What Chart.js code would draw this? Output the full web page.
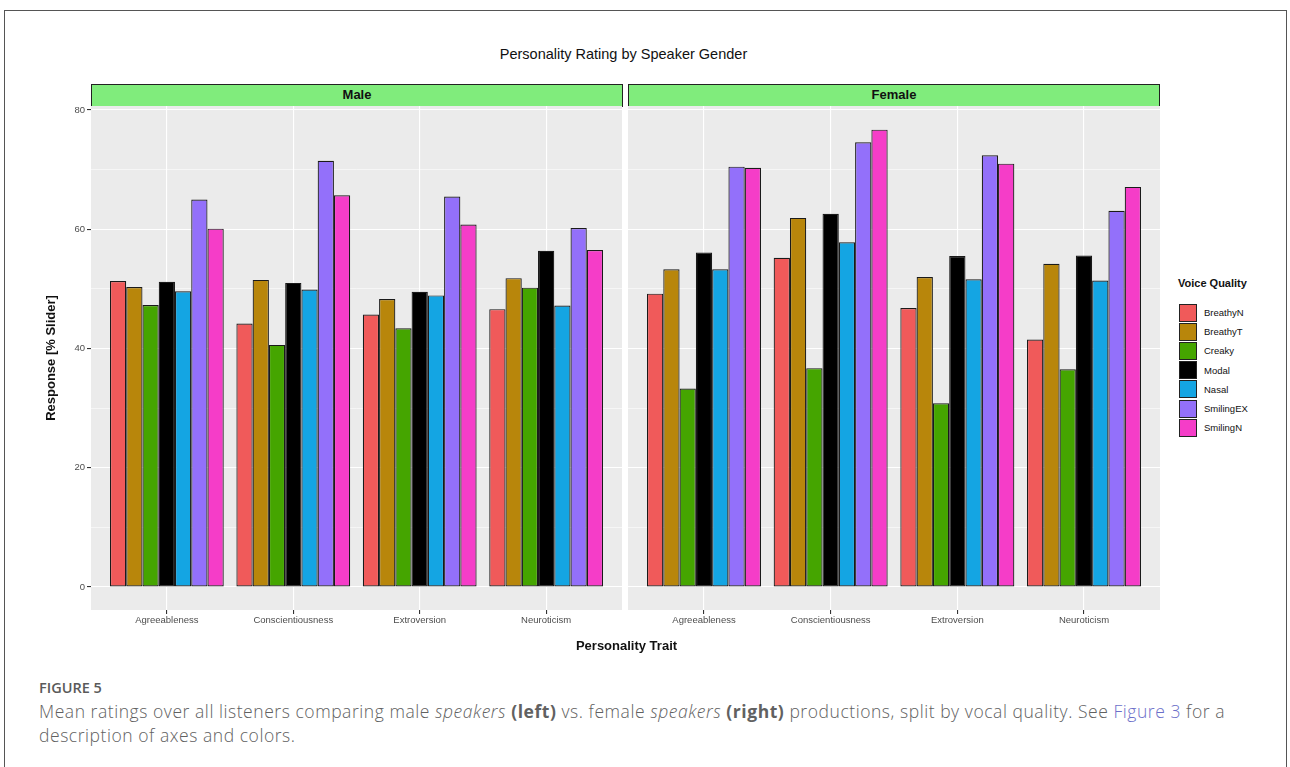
<!DOCTYPE html>
<html><head><meta charset="utf-8">
<script src="https://cdn.jsdelivr.net/npm/chart.js@4.4.1/dist/chart.umd.min.js"></script>
<style>
body{margin:0;width:1290px;height:767px;overflow:hidden;background:#fff;position:relative;font-family:"Liberation Sans",Arial,sans-serif}
#frame{position:absolute;left:4px;top:10px;width:1283px;height:800px;border:1px solid #555;box-sizing:border-box}
#title{position:absolute;left:0;width:1247px;top:46px;text-align:center;font-size:14.5px;color:#111}
.strip{position:absolute;top:84px;height:23px;background:#80EC7C;border:1.3px solid #222;box-sizing:border-box;text-align:center;font-weight:bold;font-size:13px;line-height:20px;color:#111}
.cw{position:absolute;top:106px;height:560px}
#xtitle{position:absolute;left:0;width:1253px;top:638px;text-align:center;font-weight:bold;font-size:13px;color:#111}
#legend{position:absolute;left:1178px;top:277px;font-size:9.5px;color:#111}
#legend .lt{font-weight:bold;font-size:11px;margin-bottom:14px}
#legend .it{height:19.2px;display:flex;align-items:center}
#legend .sw{width:16px;height:16px;border:1px solid #222;margin-right:7px;margin-left:1px}
#caption{position:absolute;left:39px;top:678px;font-family:"Open Sans",sans-serif;color:#616161}
#caption .fig{font-size:14.5px;font-weight:600;margin-bottom:3px;color:#5a5a5a}
#caption .txt{font-size:17.5px;line-height:23.5px;font-weight:300;letter-spacing:0.55px;white-space:nowrap}
#caption b{font-weight:700}
#caption a{color:#6C6FC9;text-decoration:none}
</style></head>
<body>
<div id="frame"></div>
<div id="title">Personality Rating by Speaker Gender</div>
<div class="strip" style="left:91px;width:532px">Male</div>
<div class="strip" style="left:628px;width:532px">Female</div>
<div class="cw" style="left:20px;width:602px"><canvas id="male" width="602" height="560"></canvas></div>
<div class="cw" style="left:628px;width:532px"><canvas id="female" width="532" height="560"></canvas></div>
<div id="xtitle">Personality Trait</div>
<div id="legend"><div class="lt">Voice Quality</div></div>
<div id="caption"><div class="fig">FIGURE 5</div><div class="txt">Mean ratings over all listeners comparing male <i>speakers</i> <b>(left)</b> vs. female <i>speakers</i> <b>(right)</b> productions, split by vocal quality. See <a>Figure 3</a> for a<br>description of axes and colors.</div></div>
<script>
// ---- data ----
const categories = ['Agreeableness', 'Conscientiousness', 'Extroversion', 'Neuroticism'];
const voiceQualities = ['BreathyN', 'BreathyT', 'Creaky', 'Modal', 'Nasal', 'SmilingEX', 'SmilingN'];
const seriesColors = ['#F05A5A', '#B8860B', '#45A500', '#000000', '#14A5E3', '#9370FA', '#F53DC8'];
const yTickValues = [0, 10, 20, 30, 40, 50, 60, 70, 80];

const maleBreathyN  = [51.3, 44.2, 45.7, 46.6];
const maleBreathyT  = [50.3, 51.5, 48.3, 51.8];
const maleCreaky    = [47.3, 40.6, 43.4, 50.2];
const maleModal     = [51.2, 51.0, 49.5, 56.4];
const maleNasal     = [49.6, 49.9, 48.9, 47.2];
const maleSmilingEX = [65.0, 71.5, 65.5, 60.2];
const maleSmilingN  = [60.1, 65.7, 60.8, 56.5];

const femaleBreathyN  = [49.2, 55.2, 46.8, 41.5];
const femaleBreathyT  = [53.3, 61.9, 52.0, 54.2];
const femaleCreaky    = [33.3, 36.7, 30.8, 36.5];
const femaleModal     = [56.1, 62.6, 55.5, 55.6];
const femaleNasal     = [53.3, 57.8, 51.6, 51.4];
const femaleSmilingEX = [70.5, 74.6, 72.4, 63.1];
const femaleSmilingN  = [70.3, 76.7, 71.0, 67.1];

const maleSeries = [maleBreathyN, maleBreathyT, maleCreaky, maleModal, maleNasal, maleSmilingEX, maleSmilingN];
const femaleSeries = [femaleBreathyN, femaleBreathyT, femaleCreaky, femaleModal, femaleNasal, femaleSmilingEX, femaleSmilingN];

// legend
const leg = document.getElementById('legend');
voiceQualities.forEach((n, i) => {
  const d = document.createElement('div'); d.className = 'it';
  const s = document.createElement('div'); s.className = 'sw'; s.style.background = seriesColors[i];
  const t = document.createElement('span'); t.textContent = n;
  d.appendChild(s); d.appendChild(t); leg.appendChild(d);
});

const panelBg = {
  id: 'panelBg',
  beforeDraw(chart) {
    const a = chart.chartArea, c = chart.ctx;
    c.save(); c.fillStyle = '#EBEBEB'; c.fillRect(a.left, a.top, a.right - a.left, a.bottom - a.top); c.restore();
  }
};

function makeChart(id, series, showY) {
  const datasets = series.map((vals, i) => ({
    label: voiceQualities[i],
    data: vals.map((v, j) => ({ x: j + 1, y: v })),
    backgroundColor: seriesColors[i],
    borderColor: '#1A1A1A',
    borderWidth: 1.2,
    borderSkipped: false,
    categoryPercentage: 0.9,
    barPercentage: 1.0
  }));
  return new Chart(document.getElementById(id), {
    type: 'bar',
    data: { datasets },
    plugins: [panelBg],
    options: {
      responsive: false, animation: false, devicePixelRatio: 1,
      layout: { padding: 0 },
      plugins: { legend: { display: false }, tooltip: { enabled: false } },
      scales: {
        x: {
          type: 'linear', min: 0.4, max: 4.6, offset: false,
          afterBuildTicks: s => { s.ticks = categories.map((c, i) => ({ value: i + 1 })); },
          afterFit: s => { s.height = 56; s.paddingLeft = 0; s.paddingRight = 0; },
          ticks: { callback: v => categories[v - 1] || '', color: '#4D4D4D', font: { family: 'Liberation Sans', size: 9.5 }, padding: 1, maxRotation: 0, autoSkip: false },
          grid: { color: '#FFFFFF', lineWidth: 1.1, tickLength: 4, tickColor: '#333333', offset: false },
          border: { display: false }
        },
        y: {
          type: 'linear', min: -3.86, max: 80.67,
          afterBuildTicks: s => { s.ticks = yTickValues.map(v => ({ value: v })); },
          afterFit: s => { s.width = showY ? 71 : 0; s.paddingTop = 0; s.paddingBottom = 0; },
          ticks: { display: showY, callback: v => (v % 20 === 0 ? String(v) : ''), color: '#4D4D4D', font: { family: 'Liberation Sans', size: 9.5 }, padding: 2 },
          grid: {
            color: '#FFFFFF',
            lineWidth: c => (c.tick && c.tick.value % 20 === 0 ? 1.1 : 0.55),
            tickLength: 4,
            tickColor: c => (c.tick && c.tick.value % 20 === 0 && showY ? '#333333' : 'rgba(0,0,0,0)')
          },
          border: { display: false },
          title: { display: showY, text: 'Response [% Slider]', color: '#111', font: { family: 'Liberation Sans', size: 13, weight: 'bold' }, padding: { top: 24, bottom: 0 } }
        }
      }
    }
  });
}
makeChart('male', maleSeries, true);
makeChart('female', femaleSeries, false);
</script>
</body></html>
